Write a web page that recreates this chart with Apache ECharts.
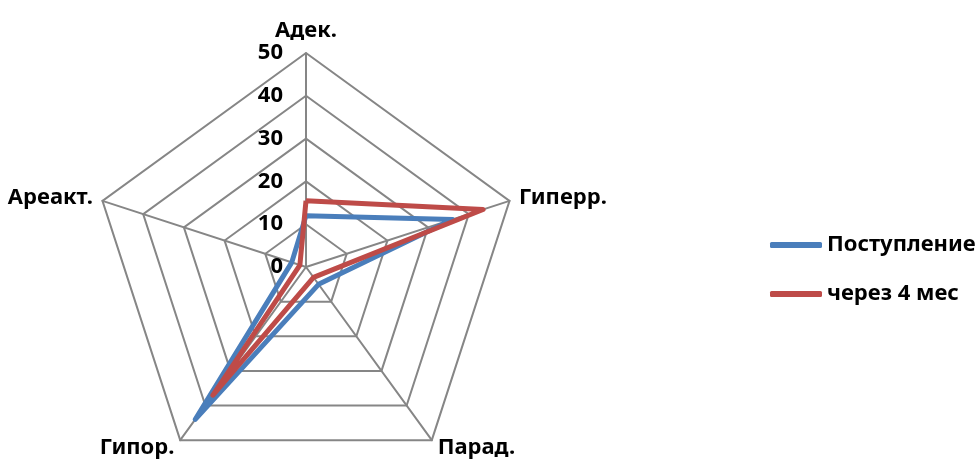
<!DOCTYPE html>
<html lang="ru">
<head>
    <meta charset="UTF-8">
    <title>Радар</title>
    <script src="https://cdn.jsdelivr.net/npm/echarts@6/dist/echarts.min.js"></script>
</head>
<body style="margin:0;background:#fff">
<div id="main" style="width:979px;height:462px"></div>
<script>
    // оси идут по часовой стрелке: Адек. сверху, дальше Гиперр., Парад., Гипор., Ареакт.
    // echarts рисует против часовой, поэтому порядок в массивах обратный (кроме первой)
    var indicators = ['Адек.', 'Ареакт.', 'Гипор.', 'Парад.', 'Гиперр.'];
    var seriesNames = ['Поступление', 'через 4 мес'];
    var arrival = [12, 3.5, 44, 5, 36];
    var after4m = [15.5, 1.5, 37, 3, 43.5];
    var axisMax = 50;

    var fontFam = '"Noto Sans", sans-serif';

    var myChart = echarts.init(document.getElementById('main'));

    myChart.setOption({
        animation: false,
        legend: {
            orient: 'vertical',
            left: 765,
            top: 229,
            itemWidth: 52,
            itemHeight: 6,
            itemGap: 27,
            icon: 'roundRect',
            data: seriesNames,
            textStyle: {
                fontFamily: fontFam,
                fontWeight: 'bold',
                fontSize: 22,
                color: '#000'
            }
        },
        radar: {
            center: [306, 267],
            radius: 214,
            startAngle: 90,
            shape: 'polygon',
            splitNumber: 5,
            indicator: indicators.map(function (name, i) {
                return {
                    name: name,
                    min: 0,
                    max: axisMax,
                    axisLabel: { show: i === 0 }
                };
            }),
            axisName: {
                color: '#000',
                fontFamily: fontFam,
                fontWeight: 'bold',
                fontSize: 22
            },
            nameGap: 10,
            axisLine: { lineStyle: { color: '#868686', width: 2 } },
            splitLine: { lineStyle: { color: '#868686', width: 2 } },
            splitArea: { show: false },
            axisTick: { show: false },
            axisLabel: {
                show: false,
                color: '#000',
                fontFamily: fontFam,
                fontWeight: 'bold',
                fontSize: 22,
                margin: 23
            }
        },
        series: [{
            type: 'radar',
            symbol: 'none',
            data: [
                { name: seriesNames[0], value: arrival,
                  lineStyle: { color: '#4a7ebb', width: 5 }, itemStyle: { color: '#4a7ebb' } },
                { name: seriesNames[1], value: after4m,
                  lineStyle: { color: '#be4b48', width: 5 }, itemStyle: { color: '#be4b48' } }
            ]
        }]
    });
</script>
</body>
</html>
